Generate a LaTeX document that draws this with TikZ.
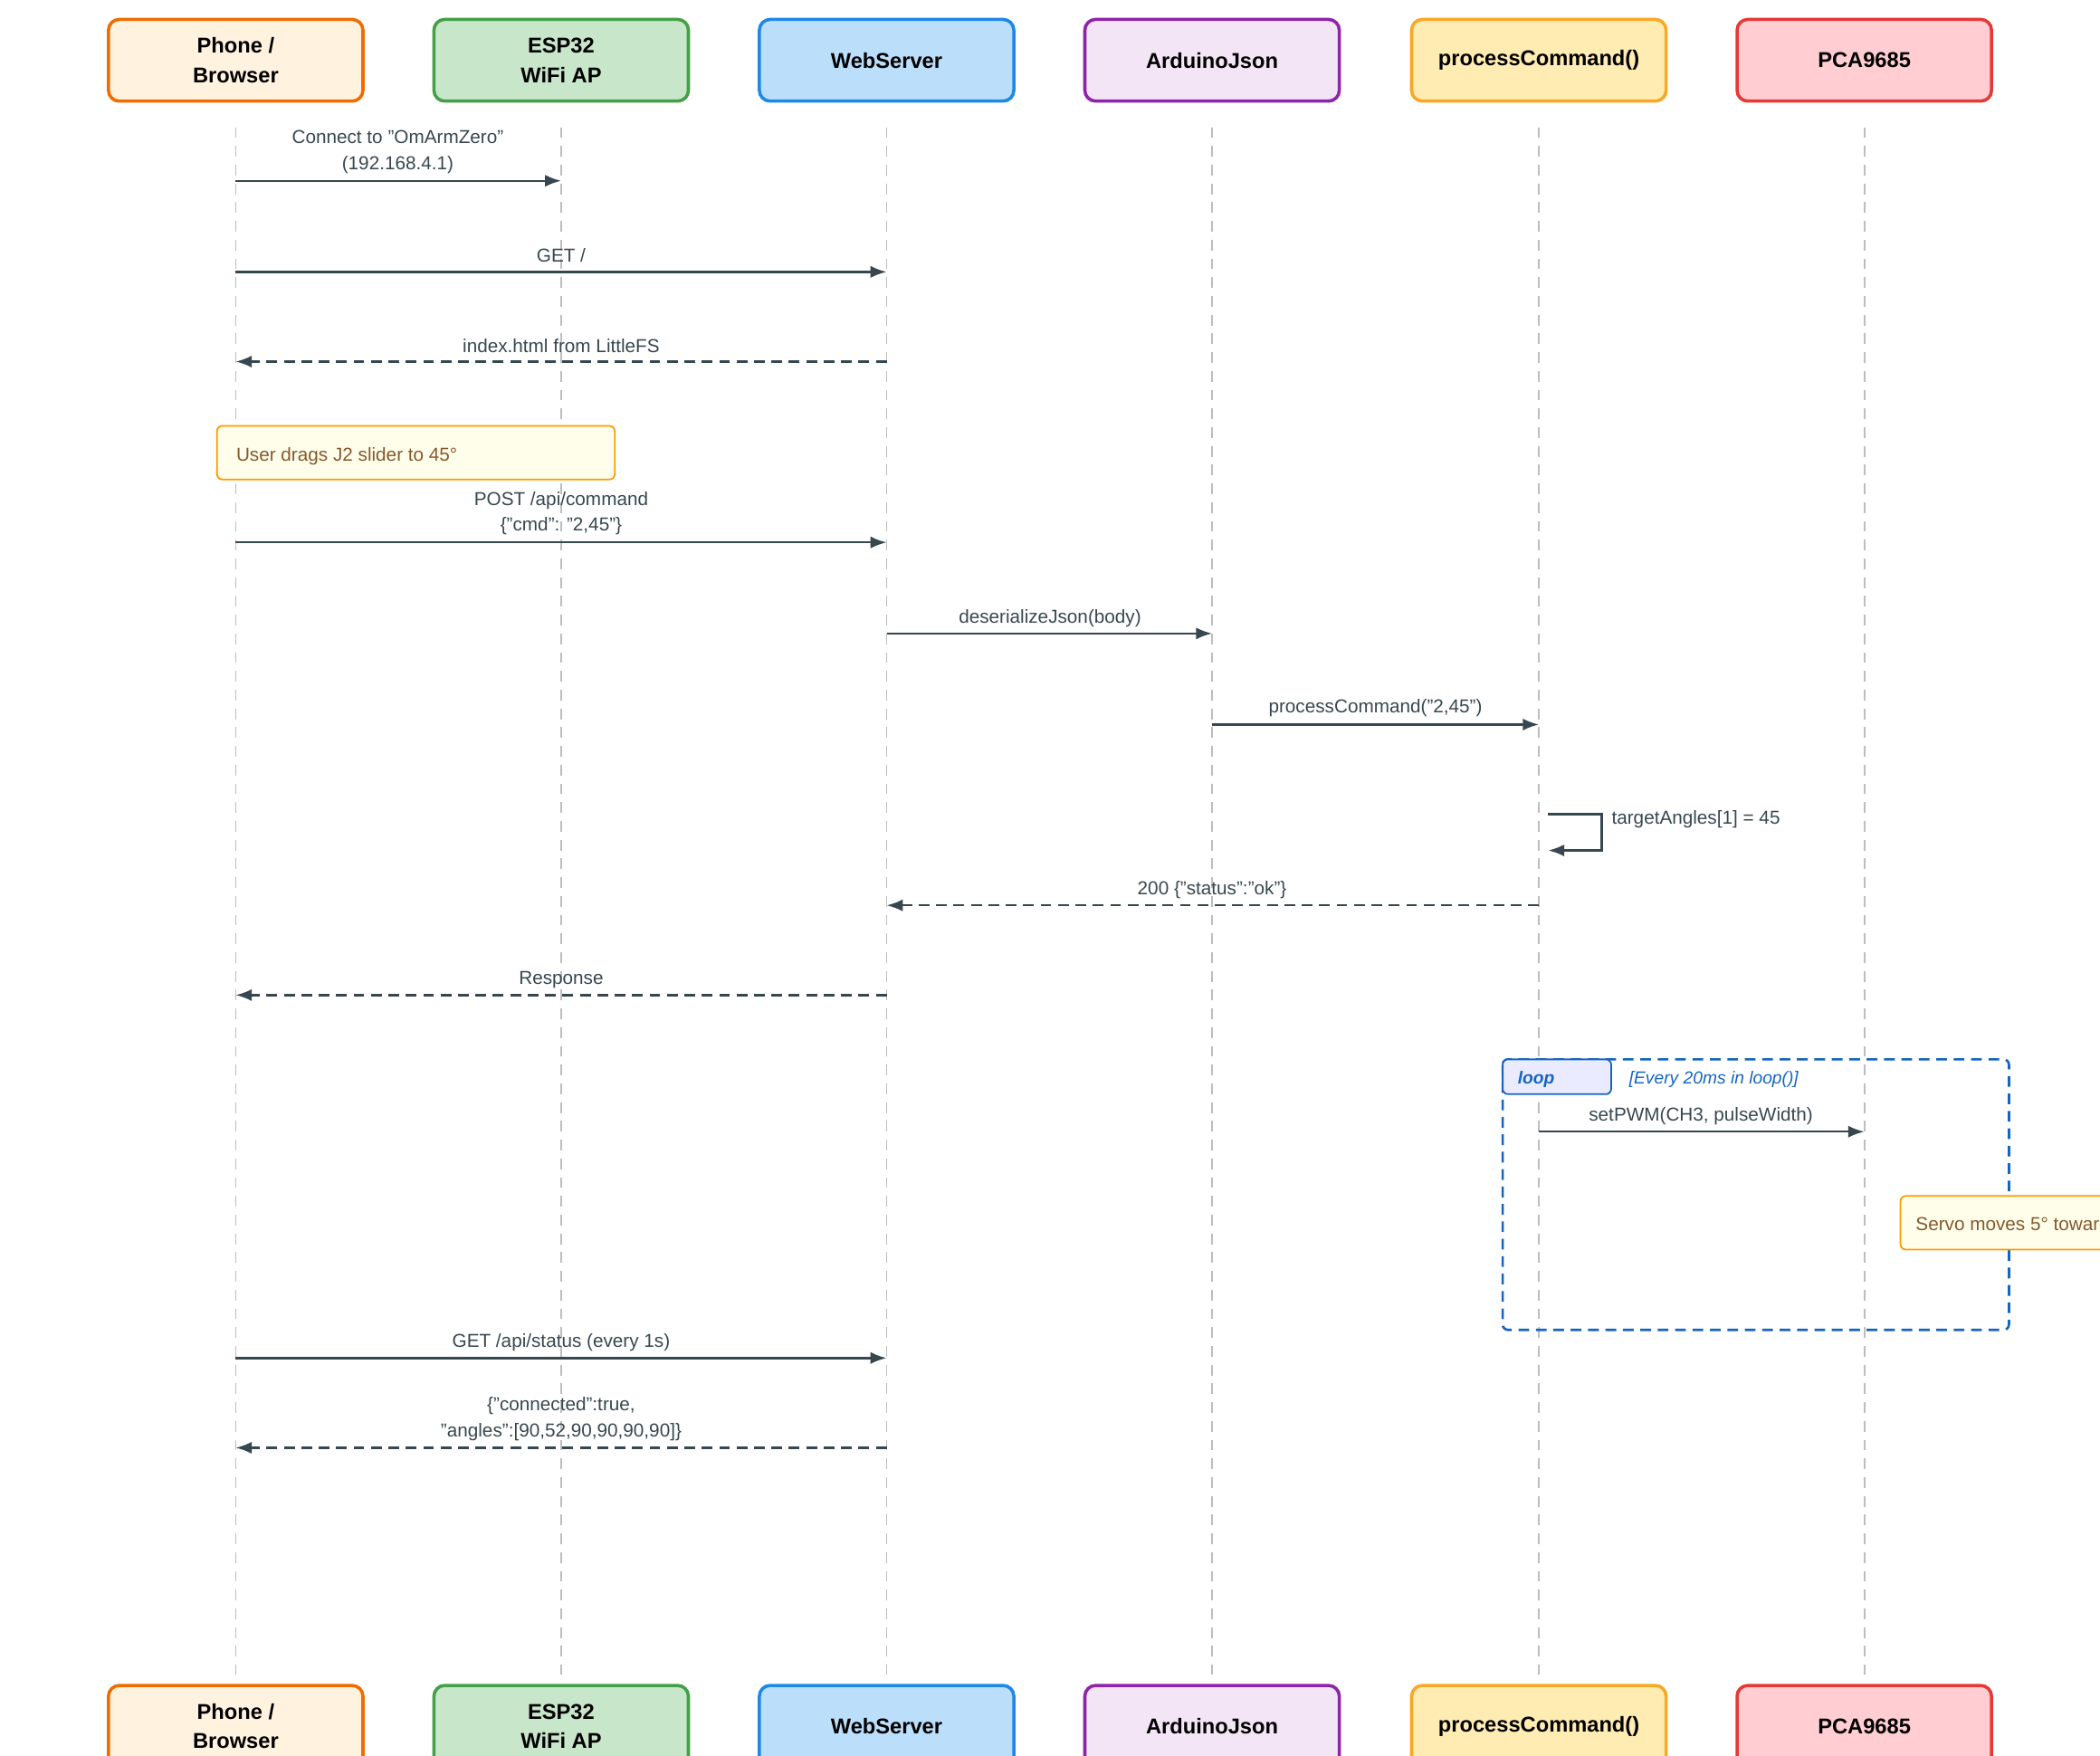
\documentclass[tikz,border=0pt]{standalone}
\usepackage{fontspec}
\setmainfont{Liberation Sans}
\usetikzlibrary{arrows.meta}
\newcommand\qq{\symbol{34}}
\definecolor{ln}{HTML}{37474F}
\definecolor{ll}{HTML}{BDBDBD}
\definecolor{lb}{HTML}{1565C0}
\tikzset{
 actor/.style={draw=#1, line width=1.2pt, rounded corners=4pt, minimum width=95pt, minimum height=30.5pt, align=center, font=\fontsize{8}{11}\selectfont\bfseries, inner sep=0pt},
 life/.style={ll, dash pattern=on 4pt off 3pt, line width=0.6pt},
 msg/.style={ln, line width=0.8pt, -{Latex[length=6pt,width=4.5pt]}},
 rmsg/.style={msg, dash pattern=on 4pt off 2.5pt},
 lbl/.style={font=\fontsize{7}{9.5}\selectfont, text=ln, align=center, inner sep=0pt},
 note/.style={draw=orange!80!yellow, fill=yellow!8, rounded corners=2pt, line width=0.6pt},
 notetxt/.style={font=\fontsize{7}{9}\selectfont, text=brown!70!black, anchor=west, inner sep=0pt}
}
\begin{document}
\begin{tikzpicture}[x=0.5pt,y=-0.5pt]
\useasboundingbox (0,0) rectangle (1568,1311);
\clip (0,0) rectangle (1568,1311);
\foreach \x/\n/\f/\d/\t in {176/a/FFF3E0/EF6C00/{Phone /\\Browser},419/b/C8E6C9/43A047/{ESP32\\WiFi AP},662/c/BBDEFB/1E88E5/WebServer,905/d/F3E5F5/8E24AA/ArduinoJson,1149/e/FFECB3/F9A825/processCommand(),1392/f/FFCDD2/E53935/PCA9685}{
 \definecolor{fc}{HTML}{\f}\definecolor{dc}{HTML}{\d}
 \node[actor=dc, fill=fc] (\n top) at (\x,45) {\t};
 \node[actor=dc, fill=fc] (\n bot) at (\x,1289) {\t};
 \coordinate (\n) at (\x,0);
 \draw[life] (\x,95) -- (\x,1250);
}
% messages
\draw[msg] (a|-0,135) -- (b|-0,135);
\node[lbl] at (297,113.5) {Connect to \qq OmArmZero\qq\\(192.168.4.1)};
\draw[msg] (a|-0,203) -- (c|-0,203);
\node[lbl] at (419,190.5) {GET /};
\draw[rmsg] (c|-0,270) -- (a|-0,270);
\node[lbl] at (419,258.5) {index.html from LittleFS};
\draw[note] (162,318) rectangle (459,358);
\node[notetxt] at (176,340.5) {User drags J2 slider to 45°};
\draw[msg] (a|-0,405) -- (c|-0,405);
\node[lbl] at (419,383.5) {POST /api/command\\\{\qq cmd\qq: \qq 2,45\qq\}};
\draw[msg] (c|-0,473) -- (d|-0,473);
\node[lbl] at (784,461.5) {deserializeJson(body)};
\draw[msg] (d|-0,541) -- (e|-0,541);
\node[lbl] at (1027,528.5) {processCommand(\qq 2,45\qq)};
\draw[msg] (1156,608) -- (1196,608) -- (1196,635) -- (1156,635);
\node[lbl, anchor=west] at (1203,611.5) {targetAngles[1] = 45};
\draw[rmsg] (e|-0,676) -- (c|-0,676);
\node[lbl] at (905,664.5) {200 \{\qq status\qq:\qq ok\qq\}};
\draw[rmsg] (c|-0,743) -- (a|-0,743);
\node[lbl] at (419,731.5) {Response};
% loop
\draw[lb, line width=0.9pt, dash pattern=on 4pt off 2.5pt, rounded corners=2pt] (1122,791) rectangle (1500,993);
\draw[lb, fill=blue!8, line width=0.6pt, rounded corners=2pt] (1122,791) rectangle (1203,817);
\node[font=\fontsize{6.5}{8}\selectfont\bfseries\itshape, text=lb] at (1147,806) {loop};
\node[font=\fontsize{6.5}{8}\selectfont\itshape, text=lb, anchor=west, inner sep=0pt] at (1216,806) {[Every 20ms in loop()]};
\draw[msg] (e|-0,845) -- (f|-0,845);
\node[lbl] at (1270,833.5) {setPWM(CH3, pulseWidth)};
\draw[note] (1419,893) rectangle (1680,933);
\node[notetxt] at (1430,915.5) {Servo moves 5° toward target};
\draw[msg] (a|-0,1014) -- (c|-0,1014);
\node[lbl] at (419,1002.5) {GET /api/status (every 1s)};
\draw[rmsg] (c|-0,1081) -- (a|-0,1081);
\node[lbl] at (419,1059.5) {\{\qq connected\qq:true,\\\qq angles\qq:[90,52,90,90,90,90]\}};
\end{tikzpicture}
\end{document}
